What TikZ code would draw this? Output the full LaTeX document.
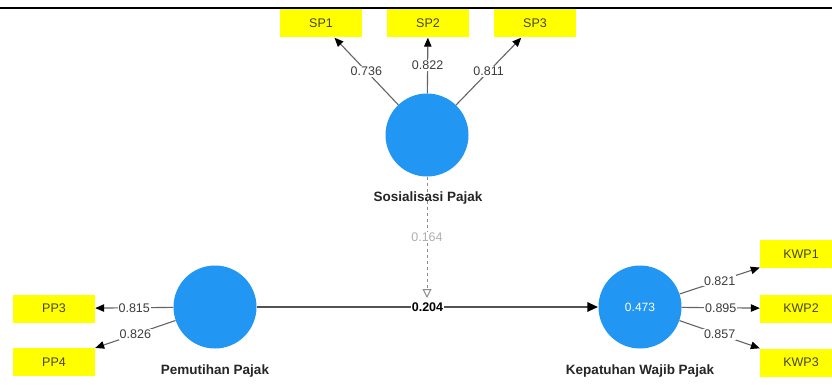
\documentclass[tikz,border=0pt]{standalone}
\usepackage{fontspec}
\setmainfont{Liberation Sans}
\usetikzlibrary{arrows.meta}
\definecolor{plsblue}{RGB}{33,150,243}
\definecolor{plsyellow}{RGB}{255,255,0}
\definecolor{boxtext}{RGB}{70,70,40}
\definecolor{linegray}{RGB}{100,100,100}
\definecolor{labelgray}{RGB}{60,60,60}
\definecolor{faintgray}{RGB}{175,175,175}
\tikzset{
  lv/.style={circle, fill=plsblue, minimum size=83pt, inner sep=0pt, text=white, font=\fontsize{12}{14}\selectfont},
  ind/.style={rectangle, fill=plsyellow, minimum width=82pt, minimum height=28pt, inner sep=0pt, text=boxtext, font=\fontsize{12.5}{14}\selectfont},
  lvname/.style={font=\bfseries\fontsize{13.5}{16}\selectfont, text=black!85},
  load/.style={draw=linegray, line width=1.1pt, -{Triangle[length=9pt,width=7.5pt,color=black]}},
  lbl/.style={fill=white, inner sep=1pt, text=labelgray, font=\fontsize{12.5}{14}\selectfont},
  path/.style={draw=black!68, line width=2.8pt, -{Triangle[length=11pt,width=9pt,color=black]}},
  modpath/.style={draw=black!45, line width=1pt, dashed, -{Triangle[open,length=9pt,width=9pt,color=black!45]}}
}
\begin{document}
\begin{tikzpicture}[x=1pt,y=-1pt]
\clip (0,0) rectangle (832,385);
\fill[white] (0,0) rectangle (832,385);
% top rule
\draw[line width=2.5pt] (0,8) -- (832,8);

% latent variables
\node[lv] (SOS) at (427,135) {};
\node[lv] (PEM) at (215,307) {};
\node[lv] (KEP) at (640,307) {0.473};

\node[lvname] (nSOS) at (428,198) {Sosialisasi Pajak};
\node[lvname] (nPEM) at (215,371) {Pemutihan Pajak};
\node[lvname] (nKEP) at (640,371) {Kepatuhan Wajib Pajak};

% indicators
\node[ind] (SP1) at (321,23.5) {SP1};
\node[ind] (SP2) at (428,23.5) {SP2};
\node[ind] (SP3) at (535,23.5) {SP3};
\node[ind] (PP3) at (54,308.5) {PP3};
\node[ind] (PP4) at (54,362) {PP4};
\node[ind] (KWP1) at (801,254) {KWP1};
\node[ind] (KWP2) at (801,308.5) {KWP2};
\node[ind] (KWP3) at (801,362.5) {KWP3};

% loadings
\draw[load] (SOS) -- node[lbl] {0.736} (SP1);
\draw[load] (SOS) -- node[lbl] {0.822} (SP2);
\draw[load] (SOS) -- node[lbl] {0.811} (SP3);
\draw[load] (PEM) -- node[lbl] {0.815} (PP3);
\draw[load] (PEM) -- node[lbl] {0.826} (PP4);
\draw[load] (KEP) -- node[lbl] {0.821} (KWP1);
\draw[load] (KEP) -- node[lbl] {0.895} (KWP2);
\draw[load] (KEP) -- node[lbl] {0.857} (KWP3);

% structural path
\draw[path] (PEM) -- node[lbl, text=black, font=\bfseries\fontsize{12.5}{14}\selectfont] {0.204} (KEP);

% moderating effect
\coordinate (modend) at (427,298);
\draw[modpath] (SOS) -- node[lbl, text=faintgray, pos=0.5] {0.164} (modend);
\end{tikzpicture}
\end{document}
